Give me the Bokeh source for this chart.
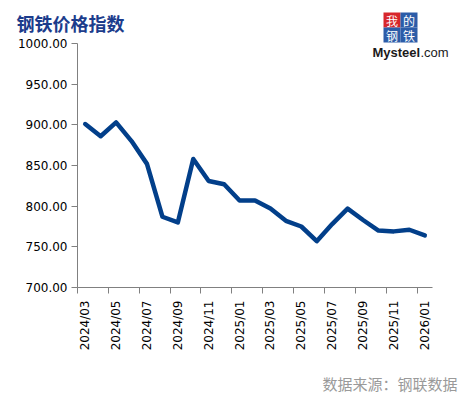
import math
from bokeh.plotting import figure
from bokeh.models import Range1d, FixedTicker, PrintfTickFormatter, Label, BoxAnnotation
from bokeh.embed import file_html
from bokeh.resources import INLINE

title_text = "钢铁价格指数"
source_text = "数据来源：钢联数据"
months = ["2024/03", "2024/04", "2024/05", "2024/06", "2024/07", "2024/08",
          "2024/09", "2024/10", "2024/11", "2024/12", "2025/01", "2025/02",
          "2025/03", "2025/04", "2025/05", "2025/06", "2025/07", "2025/08",
          "2025/09", "2025/10", "2025/11", "2025/12", "2026/01"]
values = [901, 886, 903, 880, 852, 787, 780, 858, 831, 827, 807, 807,
          797, 782, 775, 757, 778, 797, 783, 770, 769, 771, 764]
y_ticks = [700, 750, 800, 850, 900, 950, 1000]
y_min, y_max = 700, 1000

# page layout (pixels)
W, H = 463, 397
plot_left, plot_right = 77, 432
plot_top, plot_bottom = 43, 287

n = len(months)
xs = list(range(n))
ppx = (plot_right - plot_left) / n                  # pixels per category
ppy = (plot_bottom - plot_top) / (y_max - y_min)    # pixels per unit
x0 = -0.5 - plot_left / ppx
x1 = x0 + W / ppx
y0 = y_min - (H - plot_bottom) / ppy
y1 = y0 + H / ppy

p = figure(width=W, height=H, output_backend="svg", toolbar_location=None,
           x_range=Range1d(x0, x1), y_range=Range1d(y0, y1), min_border=0)
p.outline_line_color = None
p.xgrid.grid_line_color = None
p.ygrid.grid_line_color = None
p.background_fill_color = "white"
p.border_fill_color = "white"

p.line(xs, values, line_width=4.5, line_color="#023f8a", line_join="round", line_cap="round")

# x axis
major = [i for i in xs if i % 2 == 0]
p.xaxis.fixed_location = y_min
p.xaxis.bounds = (-0.5, n - 0.5)
p.xaxis.ticker = FixedTicker(ticks=major, minor_ticks=[i - 0.5 for i in major])
p.xaxis.major_label_overrides = {i: months[i] for i in major}
p.xaxis.major_label_orientation = math.pi / 2
p.xaxis.major_tick_out = 6
p.xaxis.major_tick_in = 0
p.xaxis.minor_tick_out = 6
p.xaxis.minor_tick_in = 0
p.xaxis.minor_tick_line_color = "#808080"
p.xaxis.major_label_standoff = 7

# y axis
p.yaxis.fixed_location = -0.5
p.yaxis.bounds = (y_min, y_max)
p.yaxis.ticker = FixedTicker(ticks=y_ticks)
p.yaxis.formatter = PrintfTickFormatter(format="%.2f")
p.yaxis.major_tick_out = 6
p.yaxis.major_tick_in = 0
p.yaxis.minor_tick_line_color = None
p.yaxis.major_label_standoff = 4

for ax in (p.xaxis, p.yaxis):
    ax.axis_line_color = "#808080"
    ax.major_label_text_font = "DejaVu Sans"
    ax.major_label_text_font_size = "12px"
    ax.major_label_text_color = "#000000"
p.yaxis.major_tick_line_color = "#808080"
p.xaxis.major_tick_line_color = None

# title (screen units: from frame left / frame bottom)
p.add_layout(Label(x=16, y=H - 22, x_units="screen", y_units="screen", text=title_text,
                   text_font="Noto Sans CJK SC", text_font_style="bold",
                   text_font_size="18px", text_color="#1c3c8c", text_baseline="middle"))

# source
p.add_layout(Label(x=457, y=H - 383, x_units="screen", y_units="screen", text=source_text,
                   text_font="Noto Sans CJK SC", text_font_size="15px",
                   text_color="#9a9a9a", text_align="right", text_baseline="middle"))

# logo
cells = [("我", 383, 12, "#d7262b"), ("的", 400, 12, "#2c5ca8"),
         ("钢", 383, 27, "#2c5ca8"), ("铁", 400, 27, "#2c5ca8")]
for ch, cx, cy, col in cells:
    p.add_layout(BoxAnnotation(left=cx, right=cx + 17, top=H - cy, bottom=H - cy - 15,
                               left_units="screen", right_units="screen",
                               bottom_units="screen", top_units="screen",
                               fill_color=col, fill_alpha=1, line_color=None))
    p.add_layout(Label(x=cx + 8.5, y=H - cy - 7.5, x_units="screen", y_units="screen", text=ch,
                       text_font="Noto Sans CJK SC", text_font_size="12px",
                       text_color="white", text_align="center", text_baseline="middle"))
p.add_layout(Label(x=372, y=H - 52, x_units="screen", y_units="screen", text="Mysteel",
                   text_font="Liberation Sans", text_font_style="bold", text_font_size="13px",
                   text_color="#1a1a1a", text_baseline="alphabetic"))
p.add_layout(Label(x=420, y=H - 52, x_units="screen", y_units="screen", text=".com",
                   text_font="Liberation Sans", text_font_size="13px",
                   text_color="#1a1a1a", text_baseline="alphabetic"))

open("out.html", "w").write(file_html(p, INLINE))
